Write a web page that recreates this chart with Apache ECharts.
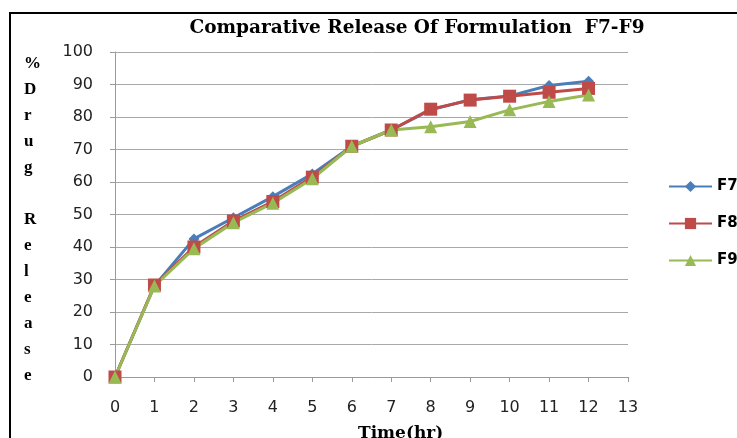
<!DOCTYPE html>
<html><head><meta charset="utf-8">
<script src="https://cdn.jsdelivr.net/npm/echarts@6/dist/echarts.min.js"></script>
<style>html,body{margin:0;padding:0;background:#fff}#c{width:737px;height:438px}</style>
</head><body><div id="c"></div>
<script>
var time = [0,1,2,3,4,5,6,7,8,9,10,11,12];
var f7 = [0,28,42.5,49,55.5,62.5,71,76,82.2,85.3,86.5,89.7,91];
var f8 = [0,28.3,40,48,54,61.5,71,76,82.4,85.2,86.4,87.6,88.8];
var f9 = [0,28,39.5,47.5,53.5,61,71,76,77,78.6,82.2,84.8,86.8];
var yLabelText = "%\nD\nr\nu\ng\n\nR\ne\nl\ne\na\ns\ne";
var xTitle = 'Time(hr)';

function pairs(v){ return time.map(function(t,i){ return [t, v[i]]; }); }
var chart = echarts.init(document.getElementById('c'));
var serif = '"DejaVu Serif","Liberation Serif",serif';
var lserif = '"Liberation Serif","Times New Roman",serif';
var sans = '"DejaVu Sans",Verdana,sans-serif';
chart.setOption({
  animation:false,
  title:{text:'Comparative Release Of Formulation  F7-F9', left:412, top:14, textAlign:'center',
    textStyle:{fontFamily:serif, fontWeight:'bold', fontSize:18.5, color:'#000'}},
  graphic:[
    {type:'rect', shape:{x:10,y:13,width:740,height:440}, style:{fill:null, stroke:'#000', lineWidth:2}, z:-1},
    {type:'text', left:24, top:51, style:{text:yLabelText, font:'bold 17px '+lserif, fill:'#000', lineHeight:26}},
    {type:'text', left:358, top:425, style:{text:xTitle, font:'bold 17px '+serif, fill:'#000', textAlign:'center'}}
  ],
  legend:{orient:'vertical', left:668, top:179, padding:0, itemGap:22, itemWidth:43, itemHeight:14,
    textStyle:{fontFamily:sans, fontWeight:'bold', fontSize:15, color:'#000'},
    data:['F7','F8','F9']},
  grid:{left:115, right:737-628, top:52, bottom:438-377},
  xAxis:{type:'value', min:0, max:13, interval:1,
    axisLine:{lineStyle:{color:'#9a9a9a'}}, axisTick:{show:true, length:5, lineStyle:{color:'#9a9a9a'}},
    axisLabel:{fontFamily:sans, fontSize:16, color:'#222', margin:23}, splitLine:{show:false}},
  yAxis:{type:'value', min:0, max:100, interval:10,
    axisLine:{show:true, lineStyle:{color:'#9a9a9a'}}, axisTick:{show:true, length:5, lineStyle:{color:'#9a9a9a'}},
    axisLabel:{fontFamily:sans, fontSize:16, color:'#222', margin:22},
    splitLine:{lineStyle:{color:'#a8a8a8'}}},
  series:[
    {name:'F7', type:'line', data:pairs(f7), symbol:'diamond', symbolSize:11,
      itemStyle:{color:'#4a7ebb'}, lineStyle:{width:3, color:'#4a7ebb'}},
    {name:'F8', type:'line', data:pairs(f8), symbol:'rect', symbolSize:13,
      itemStyle:{color:'#be4b48'}, lineStyle:{width:3, color:'#be4b48'}},
    {name:'F9', type:'line', data:pairs(f9), symbol:'triangle', symbolSize:13,
      itemStyle:{color:'#98b954'}, lineStyle:{width:3, color:'#98b954'}}
  ]
});
</script></body></html>
